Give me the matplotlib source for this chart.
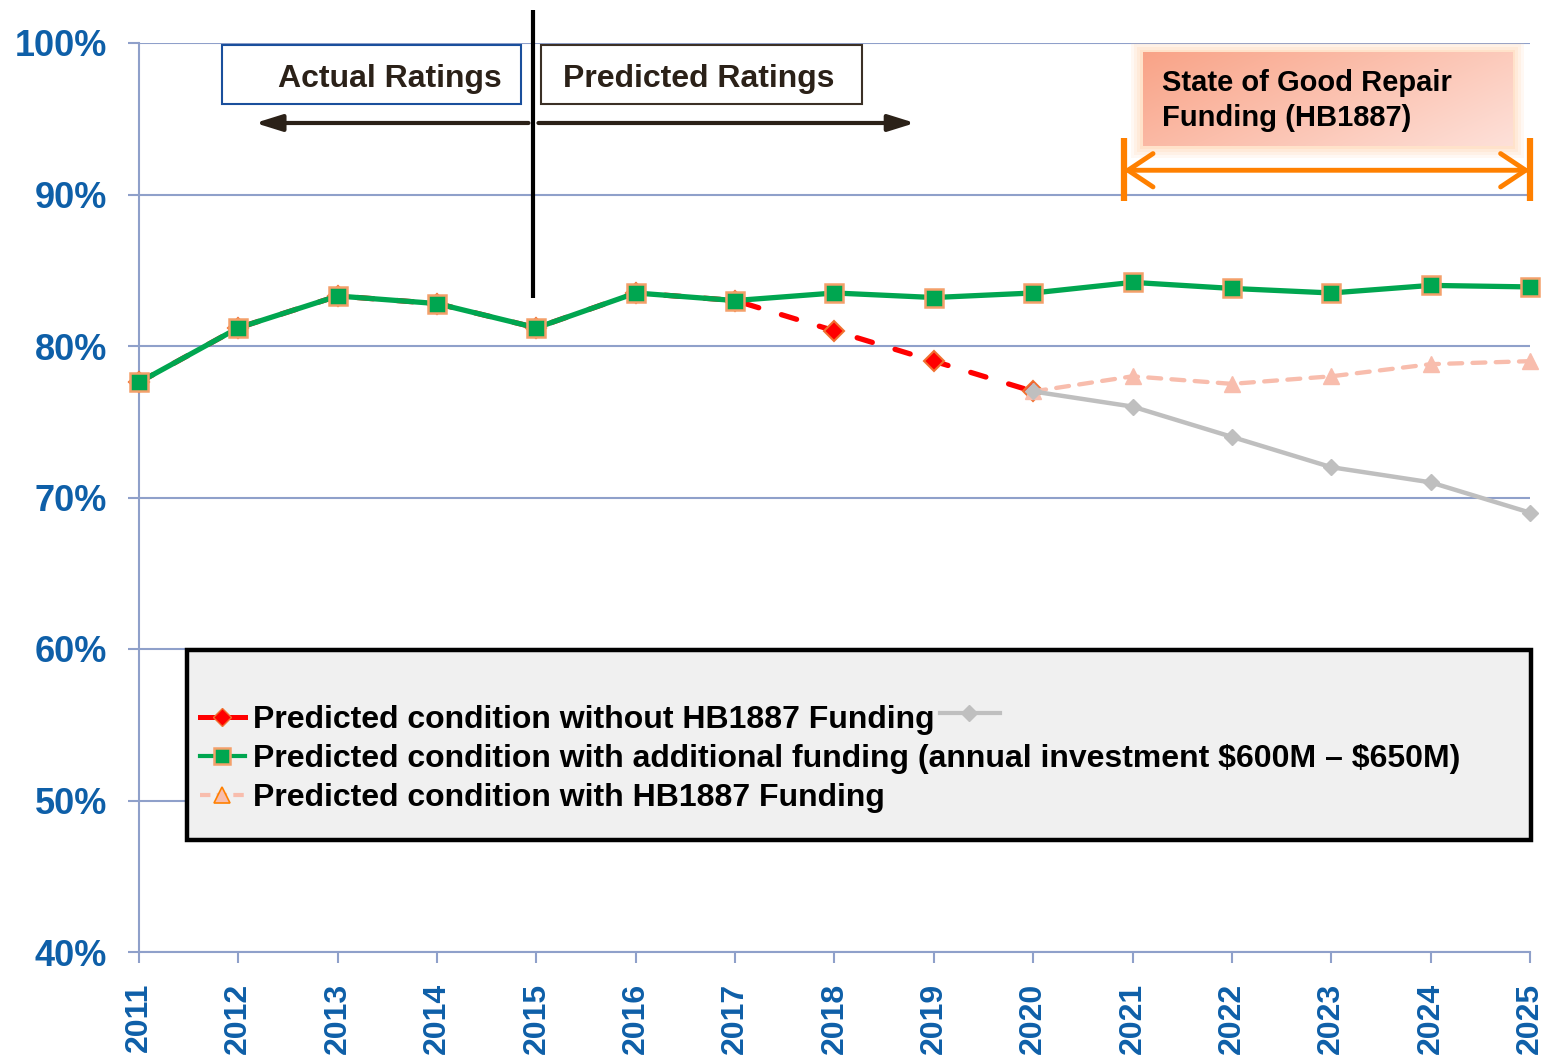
import numpy as np
import matplotlib
matplotlib.use('Agg')
import matplotlib.pyplot as plt
from matplotlib.patches import Rectangle, FancyArrowPatch
from matplotlib.lines import Line2D

# ---------------- data ----------------
years = list(range(2011, 2026))
with_additional = [77.6, 81.2, 83.3, 82.8, 81.2, 83.5, 83.0, 83.5, 83.2, 83.5,
                   84.2, 83.8, 83.5, 84.0, 83.9]
without_years = list(range(2011, 2021))
without_hb = [77.6, 81.2, 83.3, 82.8, 81.2, 83.5, 83.0, 81.0, 79.0, 77.0]
without_cont_years = list(range(2020, 2026))
without_cont = [77.0, 76.0, 74.0, 72.0, 71.0, 69.0]
with_hb_years = list(range(2020, 2026))
with_hb = [77.0, 78.0, 77.5, 78.0, 78.8, 79.0]

ytick_vals = [40, 50, 60, 70, 80, 90, 100]
ytick_labels = ['40%', '50%', '60%', '70%', '80%', '90%', '100%']
xtick_labels = [str(y) for y in years]

legend_labels = ['Predicted condition without HB1887 Funding',
                 'Predicted condition with additional funding (annual investment \\$600M \u2013 \\$650M)',
                 'Predicted condition with HB1887 Funding']
actual_label = 'Actual Ratings'
predicted_label = 'Predicted Ratings'
sgr_label = 'State of Good Repair\nFunding (HB1887)'

# ---------------- styles ----------------
SANS = 'Liberation Sans'
BLUE = '#0E5FA8'
GRID = '#8FA0CA'
GREEN = '#00A650'
GREEN_EDGE = '#F4A06A'
RED = '#FF0000'
GREY = '#BFBFBF'
PINK = '#F8BDAD'
ORANGE = '#FF8000'

fig = plt.figure(figsize=(15.49, 10.61), dpi=100)
ax = fig.add_axes([139/1549, 1-952/1061, (1530-139)/1549, (952-43)/1061])

# ---------------- series ----------------
ax.plot(without_years, without_hb, color=RED, lw=3.8, dashes=(3, 4.5),
        dash_capstyle='round', marker='D', ms=10, mfc=RED, mec='#F07030',
        mew=1.5, zorder=3, clip_on=False)
ax.plot(with_hb_years, with_hb, color=PINK, lw=3.1, dashes=(3, 2.4),
        dash_capstyle='round', marker='^', ms=12, mfc=PINK, mec=PINK,
        zorder=4, clip_on=False)
ax.plot(without_cont_years, without_cont, color=GREY, lw=3.2, marker='D',
        ms=8, mfc=GREY, mec=GREY, zorder=5, clip_on=False)
ax.plot(years, with_additional, color=GREEN, lw=3.8, marker='s', ms=13,
        mfc=GREEN, mec=GREEN_EDGE, mew=1.8, zorder=6, clip_on=False)

# ---------------- axes ----------------
ax.set_xlim(2011, 2025)
ax.set_ylim(40, 100)
ax.set_yticks(ytick_vals)
ax.set_yticklabels(ytick_labels, fontfamily=SANS, fontweight='bold',
                   fontsize=26, color=BLUE)
ax.set_xticks(years)
ax.set_xticklabels(xtick_labels, rotation=90, fontfamily=SANS,
                   fontweight='bold', fontsize=23, color=BLUE)
ax.tick_params(axis='y', direction='out', length=8, width=1.5, color=GRID, pad=15)
ax.tick_params(axis='x', direction='out', length=8, width=1.5, color=GRID, pad=14)
ax.grid(axis='y', color=GRID, lw=1.5, zorder=0)
ax.grid(axis='x', visible=False)
ax.set_axisbelow(True)
for s in ['top', 'right']:
    ax.spines[s].set_visible(False)
for s in ['left', 'bottom']:
    ax.spines[s].set_color(GRID)
    ax.spines[s].set_linewidth(1.5)

# ---------------- divider and rating boxes ----------------
divider_year = 2014.97
ax.plot([divider_year, divider_year], [83.2, 102.2], color='black', lw=3,
        clip_on=False, zorder=7, solid_capstyle='butt')

ax.add_patch(Rectangle((2011.835, 95.97), 3.01, 3.9, facecolor='white',
                       edgecolor='#1A4F9C', lw=1.5, zorder=4, clip_on=False))
ax.add_patch(Rectangle((2015.046, 95.97), 3.231, 3.9, facecolor='white',
                       edgecolor='#3B3026', lw=1.5, zorder=4, clip_on=False))
ax.text(2013.53, 97.65, actual_label, ha='center', va='center', fontfamily=SANS,
        fontweight='bold', fontsize=23, color='#2B2118', zorder=5)
ax.text(2016.63, 97.65, predicted_label, ha='center', va='center', fontfamily=SANS,
        fontweight='bold', fontsize=23, color='#2B2118', zorder=5)

arrow_kw = dict(arrowstyle='-|>,head_length=0.8,head_width=0.25', mutation_scale=20,
                color='#2B2118', lw=3, shrinkA=0, shrinkB=0, zorder=5)
ax.add_patch(FancyArrowPatch((2014.92, 94.72), (2012.17, 94.72), **arrow_kw))
ax.add_patch(FancyArrowPatch((2015.02, 94.72), (2018.81, 94.72), **arrow_kw))

# ---------------- State of Good Repair box ----------------
bx0, bx1, by0, by1 = 2021.1, 2024.82, 93.2, 99.34
px = 1/99.36
py = 1/15.15
for m, a in [(12, 0.10), (9, 0.12), (6, 0.15), (3, 0.2)]:
    ax.add_patch(Rectangle((bx0 - m*px, by0 - m*py), (bx1 - bx0) + 2*m*px,
                           (by1 - by0) + 2*m*py, facecolor='#FFC390',
                           edgecolor='none', alpha=a, zorder=2.5))
gx = np.linspace(0, 1, 200)
gy = np.linspace(0, 1, 60)
GX, GY = np.meshgrid(gx, gy)
t = (0.65*GX + 0.35*GY)
c0 = np.array([0.976, 0.64, 0.53])
c1 = np.array([0.995, 0.88, 0.85])
img = c0[None, None, :]*(1 - t[..., None]) + c1[None, None, :]*t[..., None]
ax.imshow(img, extent=[bx0, bx1, by0, by1], origin='upper', aspect='auto',
          zorder=3, interpolation='bilinear')
ax.text(2021.3, 96.2, sgr_label, ha='left', va='center', fontfamily=SANS,
        fontweight='bold', fontsize=21, color='black', linespacing=1.3, zorder=4)

bracket_left = 2020.91
bracket_right = 2025.0
for bx in [bracket_left, bracket_right]:
    ax.plot([bx, bx], [89.55, 93.7], color=ORANGE, lw=4.5, clip_on=False,
            solid_capstyle='butt', zorder=5)
ax.annotate('', xy=(bracket_left, 91.6), xytext=(bracket_right, 91.6),
            arrowprops=dict(arrowstyle='<->,head_length=0.9,head_width=0.6',
                            mutation_scale=20, color=ORANGE, lw=3.5,
                            shrinkA=0, shrinkB=0), zorder=5)

ax.set_xlim(2011, 2025)
ax.set_ylim(40, 100)

# ---------------- legend ----------------
ax.add_patch(Rectangle((0.0345, 0.1232), 0.966, 0.209, transform=ax.transAxes,
                       facecolor='#F0F0F0', edgecolor='black', lw=3.2,
                       zorder=8, clip_on=False))
handles = [
    Line2D([], [], color=RED, lw=3.6, marker='D', ms=9, mfc=RED, mec='#F07030'),
    Line2D([], [], color=GREEN, lw=3, marker='s', ms=11, mfc=GREEN, mec=GREEN_EDGE, mew=1.8),
    Line2D([], [], color=PINK, lw=3, dashes=(2.5, 1.5), marker='^', ms=11, mfc=PINK,
           mec=ORANGE, mew=1.2),
]
leg = ax.legend(handles, legend_labels, loc='upper left',
                bbox_to_anchor=(0.0439, 0.272), frameon=False, borderpad=0,
                borderaxespad=0, handlelength=1.4, handletextpad=0.25,
                labelspacing=0.29,
                prop=dict(family=SANS, weight='bold', size=23))
leg.set_zorder(9)
ax.add_line(Line2D([0.576, 0.619], [0.263, 0.263], transform=ax.transAxes,
                   color=GREY, lw=3, zorder=9, clip_on=False))
ax.add_line(Line2D([0.597], [0.263], transform=ax.transAxes, color=GREY,
                   marker='D', ms=8, mfc=GREY, mec=GREY, ls='none', zorder=9,
                   clip_on=False))

fig.savefig('out.png', dpi=100)
